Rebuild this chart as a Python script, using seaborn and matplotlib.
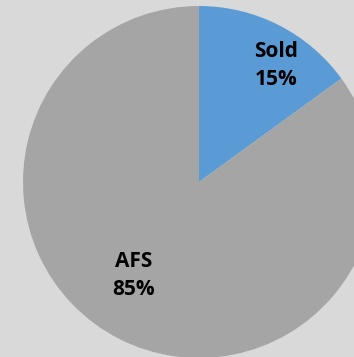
import matplotlib
matplotlib.use("Agg")
import matplotlib.pyplot as plt
import seaborn as sns
import numpy as np

# Share of units: sold vs. available for sale
categories = ["Sold", "AFS"]
shares = [15, 85]
slice_colors = ["#5b9bd5", "#a5a5a5"]
background = "#d9d9d9"

sns.set_theme(style="white")
plt.rcParams["font.family"] = ["Open Sans", "DejaVu Sans"]

fig = plt.figure(figsize=(3.54, 3.57), dpi=100, facecolor=background)
ax = fig.add_axes([23 / 354, -1 / 357, 352 / 354, 352 / 357])
ax.set_facecolor(background)

wedges, _ = ax.pie(
    shares,
    colors=slice_colors,
    startangle=90,
    counterclock=False,
    radius=1.0,
    wedgeprops=dict(linewidth=0),
)
ax.set_xlim(-1, 1)
ax.set_ylim(-1, 1)
ax.set_aspect("equal")
ax.axis("off")

# Data labels: category name over percentage
label_pos = {"Sold": (0.44, 0.66), "AFS": (-0.37, -0.53)}
for name, value in zip(categories, shares):
    x, y = label_pos[name]
    ax.text(x, y, f"{name}\n{value}%", ha="center", va="center",
            fontsize=15, fontweight="bold", color="black", linespacing=1.45)

fig.savefig("out.png", dpi=100, facecolor=background)
